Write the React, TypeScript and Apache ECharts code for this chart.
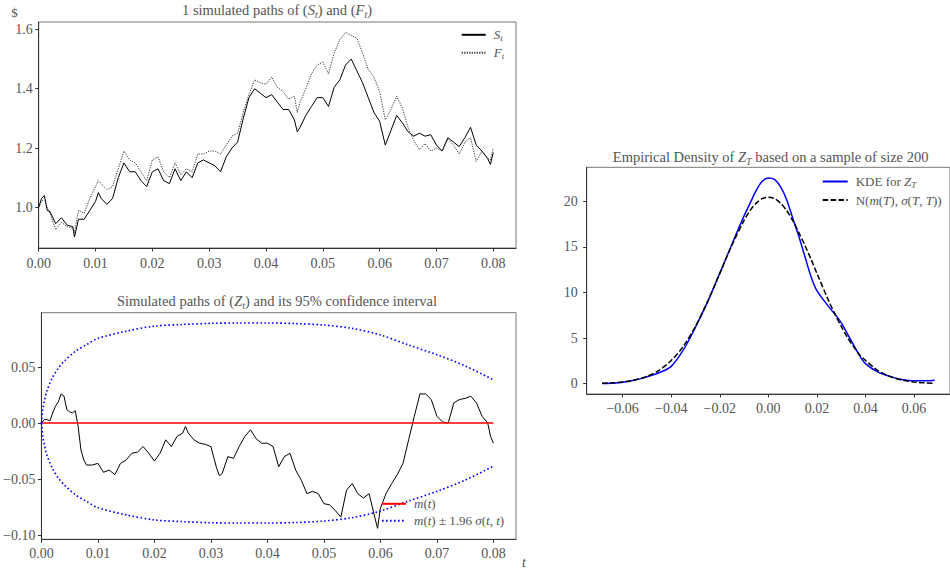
import React, { useEffect, useRef } from "react";
import * as echarts from "echarts";

// ---------- data ----------
const pathTime = [
  0, 0.0005, 0.001, 0.0015, 0.002, 0.003, 0.004, 0.005, 0.006, 0.0063, 0.007, 0.008, 0.009, 0.01, 0.0105,
  0.011, 0.012, 0.013, 0.014, 0.015, 0.016, 0.017, 0.018, 0.019, 0.02, 0.021, 0.022, 0.023, 0.024, 0.025,
  0.026, 0.027, 0.028, 0.029, 0.03, 0.031, 0.032, 0.033, 0.034, 0.035, 0.036, 0.037, 0.038, 0.039, 0.04,
  0.041, 0.042, 0.043, 0.044, 0.045, 0.0455, 0.046, 0.047, 0.048, 0.049, 0.05, 0.051, 0.052, 0.053, 0.054,
  0.055, 0.056, 0.057, 0.058, 0.059, 0.06, 0.061, 0.062, 0.063, 0.064, 0.065, 0.066, 0.067, 0.068, 0.069,
  0.07, 0.071, 0.072, 0.073, 0.074, 0.075, 0.076, 0.077, 0.078, 0.079, 0.0795, 0.08,
];
const spotS = [
  1.0, 1.03, 1.04, 0.99, 0.985, 0.945, 0.965, 0.94, 0.935, 0.9, 0.96, 0.96, 0.99, 1.02, 1.05,
  1.03, 1.01, 1.03, 1.1, 1.15, 1.12, 1.12, 1.09, 1.07, 1.12, 1.13, 1.09, 1.08, 1.13, 1.09,
  1.12, 1.1, 1.15, 1.16, 1.15, 1.14, 1.12, 1.17, 1.2, 1.22, 1.3, 1.37, 1.4, 1.385, 1.37,
  1.38, 1.355, 1.33, 1.33, 1.295, 1.255, 1.27, 1.31, 1.34, 1.37, 1.37, 1.34, 1.405, 1.43, 1.48,
  1.5, 1.46, 1.42, 1.37, 1.32, 1.29, 1.21, 1.26, 1.31, 1.285, 1.255, 1.24, 1.25, 1.24, 1.245,
  1.21, 1.19, 1.235, 1.22, 1.205, 1.235, 1.27, 1.21, 1.19, 1.165, 1.145, 1.185,
];
const forwardF = [
  1.0, 1.02, 1.03, 1.0, 0.98, 0.925, 0.95, 0.935, 0.93, 0.915, 0.99, 0.98, 1.03, 1.07, 1.09,
  1.08, 1.06, 1.07, 1.13, 1.19, 1.16, 1.15, 1.12, 1.09, 1.16, 1.17, 1.12, 1.1, 1.15, 1.11,
  1.13, 1.12, 1.18, 1.18, 1.19, 1.19, 1.18, 1.21, 1.24, 1.25, 1.32, 1.38, 1.43, 1.42, 1.415,
  1.44, 1.405, 1.39, 1.365, 1.375, 1.32, 1.355, 1.4, 1.45, 1.48, 1.49, 1.45, 1.52, 1.565, 1.59,
  1.58, 1.57, 1.52, 1.465, 1.44, 1.39, 1.295, 1.33, 1.375, 1.335, 1.27, 1.225, 1.195, 1.215, 1.19,
  1.2, 1.19, 1.23, 1.21, 1.18, 1.22, 1.235, 1.155, 1.19, 1.165, 1.16, 1.2,
];

const zTime = [
  0, 0.0005, 0.001, 0.0015, 0.002, 0.0025, 0.003, 0.0035, 0.004, 0.0045, 0.005, 0.0055, 0.006, 0.0065,
  0.007, 0.0075, 0.008, 0.009, 0.01, 0.011, 0.012, 0.013, 0.014, 0.015, 0.016, 0.017, 0.018, 0.019, 0.02,
  0.021, 0.022, 0.023, 0.024, 0.025, 0.0255, 0.026, 0.027, 0.028, 0.029, 0.03, 0.031, 0.0315, 0.032, 0.033,
  0.034, 0.035, 0.036, 0.037, 0.038, 0.039, 0.04, 0.041, 0.042, 0.043, 0.044, 0.045, 0.046, 0.047, 0.048,
  0.049, 0.05, 0.051, 0.052, 0.053, 0.054, 0.055, 0.056, 0.057, 0.058, 0.059, 0.0595, 0.06, 0.061, 0.062,
  0.063, 0.064, 0.065, 0.066, 0.067, 0.068, 0.069, 0.07, 0.071, 0.072, 0.073, 0.074, 0.075, 0.076, 0.077,
  0.078, 0.079, 0.0795, 0.08,
];
const zPath = [
  0, 0.003, 0.003, 0.002, 0.009, 0.015, 0.019, 0.026, 0.024, 0.012, 0.01, 0.009, 0.011, -0.003,
  -0.024, -0.033, -0.0375, -0.0375, -0.036, -0.044, -0.042, -0.046, -0.036, -0.033, -0.027, -0.026, -0.021, -0.027, -0.034,
  -0.027, -0.015, -0.021, -0.012, -0.009, -0.003, -0.009, -0.015, -0.018, -0.019, -0.021, -0.04, -0.047, -0.045, -0.03,
  -0.0315, -0.021, -0.012, -0.006, -0.014, -0.018, -0.018, -0.021, -0.039, -0.03, -0.027, -0.042, -0.051, -0.063, -0.061,
  -0.063, -0.072, -0.073, -0.078, -0.084, -0.06, -0.054, -0.063, -0.067, -0.063, -0.084, -0.094, -0.076, -0.063, -0.054,
  -0.046, -0.036, -0.015, 0.006, 0.026, 0.026, 0.021, 0.006, 0.001, 0.0, 0.018, 0.021, 0.022, 0.024, 0.018,
  0.006, 0.0, -0.012, -0.018,
];
const meanTime = [0, 0.08];
const meanM = [0, 0];
const ciTime = [
  0, 0.00025, 0.0005, 0.001, 0.002, 0.003, 0.004, 0.006, 0.008, 0.01, 0.015, 0.02, 0.025, 0.03, 0.035,
  0.04, 0.045, 0.05, 0.055, 0.06, 0.065, 0.07, 0.075, 0.08,
];
const ciHalf = [
  0, 0.012, 0.019, 0.029, 0.041, 0.049, 0.055, 0.064, 0.07, 0.0755, 0.082, 0.0865, 0.088, 0.089, 0.0893,
  0.0893, 0.0888, 0.0875, 0.0845, 0.0786, 0.0696, 0.061, 0.051, 0.0385,
];

const densX = [
  -0.0685, -0.065, -0.06, -0.055, -0.05, -0.045, -0.04, -0.035, -0.03, -0.025, -0.02, -0.015, -0.01, -0.0075,
  -0.005, -0.0025, 0, 0.0025, 0.005, 0.0075, 0.01, 0.0125, 0.015, 0.0175, 0.02, 0.025, 0.0275, 0.03, 0.0325,
  0.035, 0.0375, 0.04, 0.045, 0.05, 0.055, 0.06, 0.065, 0.0685,
];
const kdeY = [
  0.02, 0.05, 0.15, 0.4, 0.75, 1.2, 1.9, 3.7, 6.2, 9.0, 12.1, 15.3, 18.4, 19.8,
  21.2, 22.2, 22.55, 22.4, 21.6, 20.2, 18.2, 16.2, 14.0, 11.8, 10.2, 8.4, 7.6, 6.7, 5.5,
  4.3, 3.1, 2.2, 1.3, 0.8, 0.45, 0.32, 0.32, 0.38,
];
const normalY = [
  0.05, 0.08, 0.19, 0.4, 0.8, 1.47, 2.55, 4.1, 6.3, 9.0, 12.1, 15.2, 17.9, 19.0,
  19.8, 20.3, 20.45, 20.3, 19.8, 19.0, 17.9, 16.6, 15.2, 13.7, 12.1, 9.0, 7.6, 6.3, 5.1,
  4.1, 3.2, 2.55, 1.47, 0.8, 0.4, 0.19, 0.08, 0.05,
];

const timeTicks = [0, 0.01, 0.02, 0.03, 0.04, 0.05, 0.06, 0.07, 0.08];
const priceTicks = [1.0, 1.2, 1.4, 1.6];
const zTicks = [-0.1, -0.05, 0, 0.05];
const densXTicks = [-0.06, -0.04, -0.02, 0, 0.02, 0.04, 0.06];
const densYTicks = [0, 5, 10, 15, 20];

// ---------- styling ----------
const FONT = "Liberation Serif, serif";
const TXT = "#555";
const AX = "#333";

const makeRich = (size: number, sub: number, drop: number) => ({
  i: { fontStyle: "italic", fontFamily: FONT, fontSize: size, color: TXT },
  s: { fontStyle: "italic", fontFamily: FONT, fontSize: sub, color: TXT, padding: [drop, 0, 0, 0] },
  r: { fontFamily: FONT, fontSize: size, color: TXT },
});
const LEGEND_RICH = makeRich(13, 9, 7);
const TITLE_RICH = makeRich(14.5, 10, 8);

const legendLabels: Record<string, string> = {
  S: "{i|S}{s|t}",
  F: "{i|F}{s|t}",
  m: "{i|m}{r|(}{i|t}{r|)}",
  ci: "{i|m}{r|(}{i|t}{r|) ± 1.96 }{i|σ}{r|(}{i|t}{r|, }{i|t}{r|)}",
  kde: "{r|KDE for }{i|Z}{s|T}",
  normal: "{r|N(}{i|m}{r|(}{i|T}{r|), }{i|σ}{r|(}{i|T}{r|, }{i|T}{r|))}",
};

const zip = (xs: number[], ys: number[]) => xs.map((x, i) => [x, ys[i]]);
const minusFmt = (s: string) => s.replace("-", "\u2212");

function valueAxis(
  gridIndex: number,
  min: number,
  max: number,
  ticks: number[],
  fmt: (v: number) => string,
  margin: number,
  extra: any = {}
) {
  return {
    type: "value",
    gridIndex,
    min,
    max,
    axisLine: { show: true, onZero: false, lineStyle: { color: AX, width: 1 } },
    axisTick: { show: true, length: 3.5, lineStyle: { color: AX, width: 1 }, customValues: ticks },
    axisLabel: {
      customValues: ticks,
      formatter: fmt,
      margin,
      color: TXT,
      fontFamily: FONT,
      fontSize: 14,
    },
    splitLine: { show: false },
    ...extra,
  };
}

function legend(data: string[], left: number, top: number, gap: number, width: number) {
  return {
    data,
    orient: "vertical",
    left,
    top,
    padding: 0,
    itemWidth: width,
    itemHeight: 14,
    itemGap: gap,
    selectedMode: false,
    itemStyle: { opacity: 0 },
    formatter: (n: string) => legendLabels[n],
    textStyle: { fontFamily: FONT, fontSize: 13, color: TXT, rich: LEGEND_RICH, padding: [0, 0, 0, 3] },
  };
}

function title(text: string, left: number, top: number) {
  return {
    text,
    left,
    top,
    textAlign: "center",
    padding: 0,
    textStyle: { fontFamily: FONT, fontSize: 14.5, fontWeight: "normal", color: TXT, rich: TITLE_RICH },
  };
}

export default function App() {
  const ref = useRef<HTMLDivElement>(null);
  useEffect(() => {
    if (!ref.current) return;
    const chart = echarts.init(ref.current, undefined, { renderer: "svg" });
    const upper = ciTime.map((t, i) => [t, meanM[0] + ciHalf[i]]);
    const lower = ciTime.map((t, i) => [t, meanM[0] - ciHalf[i]]);
    const gridBase = { show: true, borderColor: "#777", borderWidth: 1, backgroundColor: "transparent", containLabel: false };
    chart.setOption({
      animation: false,
      backgroundColor: "#fff",
      textStyle: { fontFamily: FONT },
      title: [
        title("1 simulated paths of ({i|S}{s|t}) and ({i|F}{s|t})", 277, 1),
        title("Simulated paths of ({i|Z}{s|t}) and its 95% confidence interval", 277, 292),
        title("Empirical Density of {i|Z}{s|T} based on a sample of size 200", 770.6, 148),
      ],
      grid: [
        { ...gridBase, left: 38.7, top: 22, width: 477.3, height: 226 },
        { ...gridBase, left: 38.7, top: 312.7, width: 477.3, height: 226.6 },
        { ...gridBase, left: 586.7, top: 167.3, width: 367.9, height: 226.7 },
      ],
      xAxis: [
        valueAxis(0, 0, 0.084, timeTicks, (v) => v.toFixed(2), 8),
        valueAxis(1, 0, 0.084, timeTicks, (v) => v.toFixed(2), 7, {
          name: "t",
          nameLocation: "end",
          nameGap: 6,
          nameTextStyle: {
            fontFamily: FONT,
            fontStyle: "italic",
            fontSize: 14,
            color: TXT,
            align: "left",
            verticalAlign: "top",
            padding: [16, 0, 0, 0],
          },
        }),
        valueAxis(2, -0.0748, 0.0748, densXTicks, (v) => minusFmt(v.toFixed(2)), 7),
      ],
      yAxis: [
        valueAxis(0, 0.863, 1.625, priceTicks, (v) => v.toFixed(1), 6, {
          name: "$",
          nameLocation: "end",
          nameGap: 3,
          nameTextStyle: {
            fontFamily: FONT,
            fontSize: 13,
            color: TXT,
            align: "right",
            verticalAlign: "bottom",
            padding: [0, 21, 0, 0],
          },
        }),
        valueAxis(1, -0.1038, 0.0985, zTicks, (v) => minusFmt(v.toFixed(2)), 6),
        valueAxis(2, -1.13, 23.73, densYTicks, (v) => String(v), 9),
      ],
      legend: [
        legend(["S", "F"], 460.7, 28.3, 3.4, 24),
        legend(["m", "ci"], 381, 497.3, 4, 24),
        legend(["kde", "normal"], 821.7, 175, 4, 25),
      ],
      series: [
        {
          name: "S",
          type: "line",
          xAxisIndex: 0,
          yAxisIndex: 0,
          data: zip(pathTime, spotS),
          symbol: "none",
          lineStyle: { color: "#000", width: 1 },
          itemStyle: { color: "#000" },
        },
        {
          name: "F",
          type: "line",
          xAxisIndex: 0,
          yAxisIndex: 0,
          data: zip(pathTime, forwardF),
          symbol: "none",
          lineStyle: { color: "#333", width: 1, type: [1.2, 1.3] },
          itemStyle: { color: "#333" },
        },
        {
          name: "Z",
          type: "line",
          xAxisIndex: 1,
          yAxisIndex: 1,
          data: zip(zTime, zPath),
          symbol: "none",
          lineStyle: { color: "#000", width: 1 },
        },
        {
          name: "m",
          type: "line",
          xAxisIndex: 1,
          yAxisIndex: 1,
          data: zip(meanTime, meanM),
          symbol: "none",
          lineStyle: { color: "#ff0000", width: 1.5 },
          itemStyle: { color: "#ff0000" },
        },
        {
          name: "ci",
          type: "line",
          xAxisIndex: 1,
          yAxisIndex: 1,
          data: upper,
          symbol: "none",
          smooth: 0.3,
          lineStyle: { color: "#0000ff", width: 1.6, type: [1.6, 2.4] },
          itemStyle: { color: "#0000ff" },
        },
        {
          name: "ci",
          type: "line",
          xAxisIndex: 1,
          yAxisIndex: 1,
          data: lower,
          symbol: "none",
          smooth: 0.3,
          lineStyle: { color: "#0000ff", width: 1.6, type: [1.6, 2.4] },
          itemStyle: { color: "#0000ff" },
        },
        {
          name: "kde",
          type: "line",
          xAxisIndex: 2,
          yAxisIndex: 2,
          data: zip(densX, kdeY),
          symbol: "none",
          smooth: 0.3,
          lineStyle: { color: "#0000ff", width: 1.5 },
          itemStyle: { color: "#0000ff" },
        },
        {
          name: "normal",
          type: "line",
          xAxisIndex: 2,
          yAxisIndex: 2,
          data: zip(densX, normalY),
          symbol: "none",
          smooth: 0.3,
          lineStyle: { color: "#000", width: 1.5, type: [5.5, 2.4] },
          itemStyle: { color: "#000" },
        },
      ],
    });
    return () => chart.dispose();
  }, []);
  return (
    <div
      ref={ref}
      style={{ position: "absolute", left: 0, top: 0, width: 950, height: 571, background: "#fff" }}
    />
  );
}
